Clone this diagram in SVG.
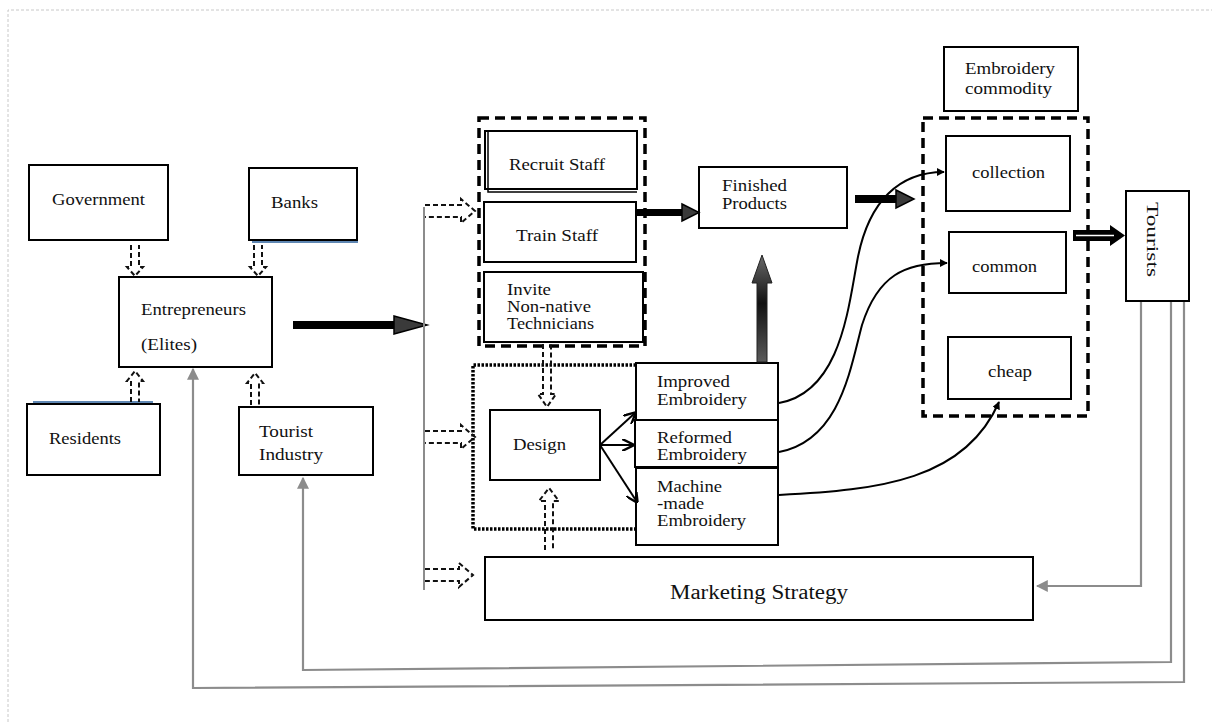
<svg xmlns="http://www.w3.org/2000/svg" width="1212" height="722" viewBox="0 0 1212 722">
  <style>
    .box { fill: #fff; stroke: #000; stroke-width: 2; }
    .txt { font-family: "Liberation Serif", "Times New Roman", serif; font-size: 17px; fill: #111; }
    .dashgrp { fill: none; stroke: #000; stroke-width: 3.5; stroke-dasharray: 10 6; }
    .dotgrp { fill: none; stroke: #000; stroke-width: 3.5; stroke-dasharray: 2.5 1.5; }
    .hollow { fill: none; stroke: #111; stroke-width: 2; stroke-dasharray: 5 3; }
    .gray { fill: none; stroke: #8c8c8c; stroke-width: 2.2; }
    .curve { fill: none; stroke: #000; stroke-width: 2; }
    .thin { fill: none; stroke: #000; stroke-width: 2; }
  </style>
  <defs>
    <marker id="solidHead" viewBox="0 0 10 10" refX="9" refY="5" markerWidth="8" markerHeight="8" markerUnits="userSpaceOnUse" orient="auto">
      <path d="M0,0 L10,5 L0,10 Z" fill="#000"/>
    </marker>
    <marker id="grayHead" viewBox="0 0 10 10" refX="9" refY="5" markerWidth="12" markerHeight="12" markerUnits="userSpaceOnUse" orient="auto">
      <path d="M0,0 L10,5 L0,10 Z" fill="#8c8c8c"/>
    </marker>
    <marker id="openHead" viewBox="0 0 10 10" refX="9" refY="5" markerWidth="12" markerHeight="12" markerUnits="userSpaceOnUse" orient="auto">
      <path d="M0,0 L10,5 L0,10" fill="none" stroke="#000" stroke-width="2"/>
    </marker>
    <linearGradient id="upShade" x1="0" y1="0" x2="0" y2="1">
      <stop offset="0" stop-color="#6a6a6a"/>
      <stop offset="0.45" stop-color="#111"/>
      <stop offset="1" stop-color="#5a5a5a"/>
    </linearGradient>
  </defs>

  <!-- page frame -->
  <path d="M8,722 V10 H1212" fill="none" stroke="#c8c8c8" stroke-width="1" stroke-dasharray="3 2"/>

  <!-- group frames -->
  <rect class="dashgrp" x="479" y="118" width="166" height="228"/>
  <path class="dotgrp" d="M636,365 H473 V529 H636"/>
  <rect class="dashgrp" x="923" y="118" width="165" height="298"/>

  <!-- nodes -->
  <g id="government">
    <rect class="box" x="29" y="165" width="139" height="75"/>
    <text class="txt" x="52" y="205" textLength="93" lengthAdjust="spacingAndGlyphs">Government</text>
  </g>
  <g id="banks">
    <rect class="box" x="249" y="168" width="108" height="72"/>
    <line x1="252" y1="242" x2="358" y2="242" stroke="#5f87b3" stroke-width="2"/>
    <text class="txt" x="271" y="208" textLength="47" lengthAdjust="spacingAndGlyphs">Banks</text>
  </g>
  <g id="entrepreneurs">
    <rect class="box" x="119" y="277" width="153" height="90"/>
    <text class="txt" x="141" y="315" textLength="105" lengthAdjust="spacingAndGlyphs">Entrepreneurs</text>
    <text class="txt" x="141" y="350" textLength="56" lengthAdjust="spacingAndGlyphs">(Elites)</text>
  </g>
  <g id="residents">
    <rect class="box" x="27" y="404" width="133" height="71"/>
    <line x1="33" y1="402" x2="153" y2="402" stroke="#5f87b3" stroke-width="2"/>
    <text class="txt" x="49" y="444" textLength="72" lengthAdjust="spacingAndGlyphs">Residents</text>
  </g>
  <g id="tourist-industry">
    <rect class="box" x="239" y="407" width="134" height="68"/>
    <text class="txt" x="259" y="437" textLength="54" lengthAdjust="spacingAndGlyphs">Tourist</text>
    <text class="txt" x="259" y="460" textLength="64" lengthAdjust="spacingAndGlyphs">Industry</text>
  </g>
  <g id="recruit-staff">
    <rect class="box" x="485" y="131" width="152" height="58"/>
    <path d="M488,131 V192 H637" fill="none" stroke="#000" stroke-width="1.5"/>
    <text class="txt" x="509" y="170" textLength="96" lengthAdjust="spacingAndGlyphs">Recruit Staff</text>
  </g>
  <g id="train-staff">
    <rect class="box" x="484" y="202" width="152" height="60"/>
    <text class="txt" x="516" y="241" textLength="82" lengthAdjust="spacingAndGlyphs">Train Staff</text>
  </g>
  <g id="invite-technicians">
    <rect class="box" x="484" y="272" width="159" height="70"/>
    <text class="txt" x="507" y="295" textLength="44" lengthAdjust="spacingAndGlyphs">Invite</text>
    <text class="txt" x="507" y="312" textLength="84" lengthAdjust="spacingAndGlyphs">Non-native</text>
    <text class="txt" x="507" y="329" textLength="87" lengthAdjust="spacingAndGlyphs">Technicians</text>
  </g>
  <g id="finished-products">
    <rect class="box" x="699" y="167" width="148" height="61"/>
    <text class="txt" x="722" y="191" textLength="65" lengthAdjust="spacingAndGlyphs">Finished</text>
    <text class="txt" x="722" y="209" textLength="65" lengthAdjust="spacingAndGlyphs">Products</text>
  </g>
  <g id="design">
    <rect class="box" x="490" y="410" width="110" height="70"/>
    <text class="txt" x="513" y="450" textLength="53" lengthAdjust="spacingAndGlyphs">Design</text>
  </g>
  <g id="improved-embroidery">
    <rect class="box" x="636" y="363" width="142" height="57"/>
    <text class="txt" x="657" y="387" textLength="73" lengthAdjust="spacingAndGlyphs">Improved</text>
    <text class="txt" x="657" y="405" textLength="90" lengthAdjust="spacingAndGlyphs">Embroidery</text>
  </g>
  <g id="reformed-embroidery">
    <rect class="box" x="635" y="420" width="143" height="47"/>
    <text class="txt" x="657" y="443" textLength="75" lengthAdjust="spacingAndGlyphs">Reformed</text>
    <text class="txt" x="657" y="460" textLength="90" lengthAdjust="spacingAndGlyphs">Embroidery</text>
  </g>
  <g id="machine-embroidery">
    <rect class="box" x="636" y="468" width="142" height="77"/>
    <text class="txt" x="657" y="492" textLength="65" lengthAdjust="spacingAndGlyphs">Machine</text>
    <text class="txt" x="657" y="509" textLength="47" lengthAdjust="spacingAndGlyphs">-made</text>
    <text class="txt" x="657" y="526" textLength="89" lengthAdjust="spacingAndGlyphs">Embroidery</text>
  </g>
  <g id="embroidery-commodity">
    <rect class="box" x="944" y="47" width="134" height="64"/>
    <text class="txt" x="965" y="74" textLength="90" lengthAdjust="spacingAndGlyphs">Embroidery</text>
    <text class="txt" x="965" y="94" textLength="87" lengthAdjust="spacingAndGlyphs">commodity</text>
  </g>
  <g id="collection">
    <rect class="box" x="946" y="136" width="124" height="75"/>
    <text class="txt" x="972" y="178" textLength="73" lengthAdjust="spacingAndGlyphs">collection</text>
  </g>
  <g id="common">
    <rect class="box" x="949" y="232" width="117" height="61"/>
    <text class="txt" x="972" y="272" textLength="65" lengthAdjust="spacingAndGlyphs">common</text>
  </g>
  <g id="cheap">
    <rect class="box" x="948" y="337" width="123" height="62"/>
    <text class="txt" x="988" y="377" textLength="44" lengthAdjust="spacingAndGlyphs">cheap</text>
  </g>
  <g id="tourists">
    <rect class="box" x="1126" y="191" width="63" height="110"/>
    <text class="txt" transform="translate(1147,202) rotate(90)" x="0" y="0" textLength="75" lengthAdjust="spacingAndGlyphs">Tourists</text>
  </g>
  <g id="marketing-strategy">
    <rect class="box" x="485" y="557" width="548" height="63"/>
    <text class="txt" x="670" y="599" style="font-size:20px" textLength="178" lengthAdjust="spacingAndGlyphs">Marketing Strategy</text>
  </g>

  <!-- connectors -->
  <g id="connectors">
    <!-- hollow dashed arrows between stakeholders and entrepreneurs -->
    <path class="hollow" d="M131,245 V267 H127 L135,276 L143,267 H139 V245"/>
    <path class="hollow" d="M254,245 V267 H250 L258,276 L266,267 H262 V245"/>
    <path class="hollow" d="M131,402 V381 H127 L135,371 L143,381 H139 V402"/>
    <path class="hollow" d="M251,405 V383 H247 L255,373 L263,383 H259 V405"/>

    <!-- main thick arrow from entrepreneurs -->
    <rect x="293" y="321" width="102" height="8" fill="#000"/>
    <path d="M394,316 L427,325 L394,334 Z" fill="#3a3a3a" stroke="#000" stroke-width="1.5"/>

    <!-- distribution line -->
    <line x1="424" y1="207" x2="424" y2="590" stroke="#8c8c8c" stroke-width="2"/>
    <path class="hollow" d="M425,205 H461 V199 L475,211 L461,223 V217 H425"/>
    <path class="hollow" d="M425,431 H461 V425 L475,437 L461,449 V443 H425"/>
    <path class="hollow" d="M425,569 H459 V563 L473,575 L459,587 V581 H425"/>

    <!-- design inputs -->
    <path class="hollow" d="M543,344 V394 H538 L547,407 L556,394 H551 V344"/>
    <path class="hollow" d="M545,550 V501 H539 L549,488 L559,501 H553 V550"/>

    <!-- design outputs -->
    <line class="thin" x1="600" y1="445" x2="635" y2="413" marker-end="url(#openHead)"/>
    <line class="thin" x1="600" y1="445" x2="633" y2="445" marker-end="url(#openHead)"/>
    <line class="thin" x1="600" y1="445" x2="637" y2="502" marker-end="url(#openHead)"/>

    <!-- train staff to finished products -->
    <rect x="637" y="209" width="46" height="7" fill="#000"/>
    <path d="M682,204 L699,212.5 L682,221 Z" fill="#3a3a3a" stroke="#000" stroke-width="1.5"/>

    <!-- embroidery to finished products -->
    <path d="M757,362 V283 H752 L762,255 L772,283 H767 V362 Z" fill="url(#upShade)" stroke="#222" stroke-width="1"/>

    <!-- finished products to commodity group -->
    <rect x="855" y="195" width="42" height="8" fill="#000"/>
    <path d="M896,190 L914,199 L896,208 Z" fill="#3a3a3a" stroke="#000" stroke-width="1.5"/>

    <!-- embroidery types to commodity grades -->
    <path class="curve" d="M779,403 C840,392 848,310 857,262 C868,200 900,172 944,172" marker-end="url(#solidHead)"/>
    <path class="curve" d="M779,452 C840,440 850,370 862,325 C878,275 905,263 947,263" marker-end="url(#solidHead)"/>
    <path class="curve" d="M779,495 C880,490 965,480 999,402" marker-end="url(#solidHead)"/>

    <!-- commodity group to tourists -->
    <path d="M1073,230 H1110 V225 L1125,235.5 L1110,246 V241 H1073 Z" fill="#000"/>
    <line x1="1076" y1="235.5" x2="1114" y2="235.5" stroke="#fff" stroke-width="1.5"/>

    <!-- feedback from tourists -->
    <path class="gray" d="M1141,302 V586 H1037" marker-end="url(#grayHead)"/>
    <path class="gray" d="M1171,302 V662 L303,670 V478" marker-end="url(#grayHead)"/>
    <path class="gray" d="M1184,302 V682 L193,688 V369" marker-end="url(#grayHead)"/>
  </g>
</svg>
